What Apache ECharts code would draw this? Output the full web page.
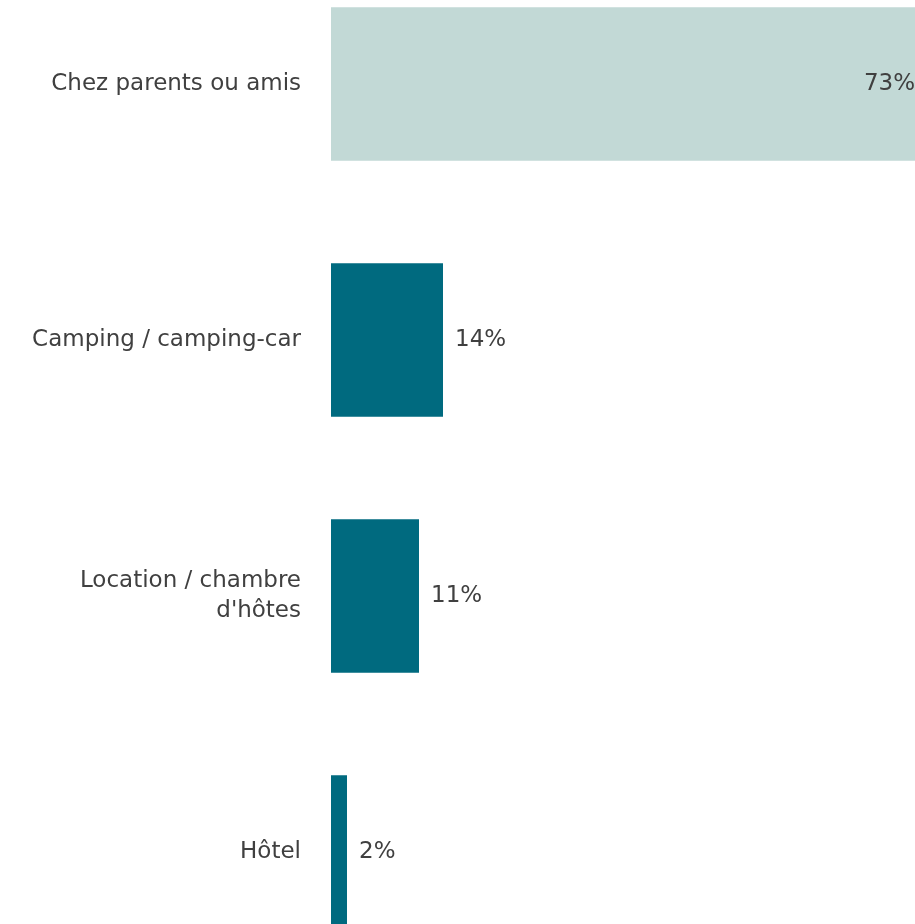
<!DOCTYPE html>
<html>
<head>
<meta charset="utf-8">
<script src="https://cdn.jsdelivr.net/npm/echarts@6/dist/echarts.min.js"></script>
<style>
html,body{margin:0;padding:0;background:#fff;overflow:hidden;}
#chart{position:absolute;left:0;top:-44px;width:915px;height:1024px;}
</style>
</head>
<body>
<div id="chart"></div>
<script>
const categories = ["Chez parents ou amis", "Camping / camping-car", "Location / chambre\nd'hôtes", "Hôtel"];
const values = [73, 14, 11, 2];
const barColors = ["#c2d9d6", "#006a7f", "#006a7f", "#006a7f"];

const chart = echarts.init(document.getElementById('chart'));
const FONT = 'DejaVu Sans';
chart.setOption({
  animation: false,
  backgroundColor: '#ffffff',
  grid: { left: 331, right: 0, top: 0, bottom: 0, containLabel: false },
  xAxis: {
    type: 'value', min: 0, max: 73,
    show: false
  },
  yAxis: {
    type: 'category', data: categories, inverse: true,
    axisLine: { show: false }, axisTick: { show: false }, splitLine: { show: false },
    axisLabel: {
      margin: 30, color: '#404040', fontFamily: FONT, fontSize: 23, lineHeight: 30, align: 'right',
      padding: [4, 0, 0, 0]
    }
  },
  series: [{
    type: 'bar',
    barCategoryGap: '40%',
    data: values.map((v, i) => ({
      value: v,
      itemStyle: { color: barColors[i] },
      label: i === 0 ? { position: 'insideRight', distance: 0 } : { position: 'right', distance: 12 }
    })),
    label: {
      show: true, formatter: '{c}%', color: '#404040', fontFamily: FONT, fontSize: 23,
      padding: [4, 0, 0, 0]
    }
  }]
});
</script>
</body>
</html>
